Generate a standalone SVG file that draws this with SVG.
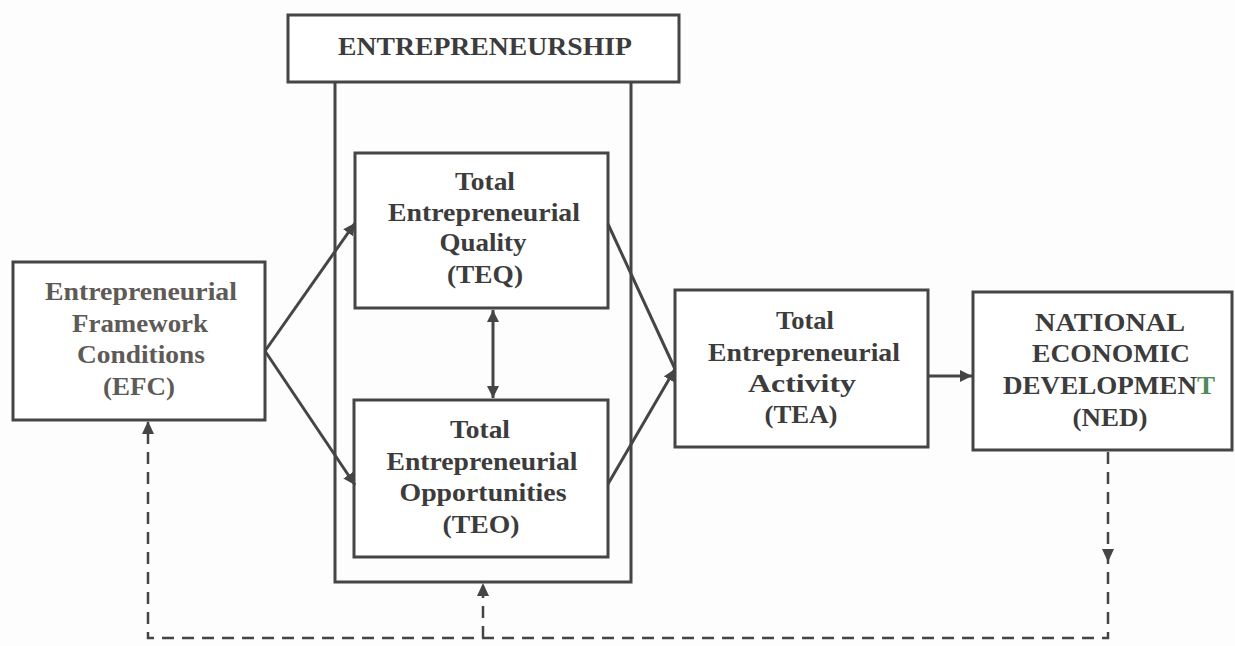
<svg xmlns="http://www.w3.org/2000/svg" width="1235" height="646" viewBox="0 0 1235 646">
  <style>
    .box { fill: #ffffff; stroke: #454545; stroke-width: 3; }
    .lbl { font-family: "Liberation Serif", "Times New Roman", serif; font-weight: bold; font-size: 26px; fill: #3c3c3c; text-anchor: middle; }
    .soft { fill: #5e5a56; }
    .link { fill: none; stroke: #454545; stroke-width: 3; }
    .dash { fill: none; stroke: #454545; stroke-width: 2.5; stroke-dasharray: 12 8; }
    .head { fill: #454545; }
  </style>
  <defs>
    <marker id="arrow" markerUnits="userSpaceOnUse" markerWidth="14" markerHeight="12" refX="12" refY="6" orient="auto">
      <path d="M0,0 L12,6 L0,12 Z" fill="#454545"/>
    </marker>
    <marker id="arrowStart" markerUnits="userSpaceOnUse" markerWidth="14" markerHeight="12" refX="0" refY="6" orient="auto">
      <path d="M12,0 L0,6 L12,12 Z" fill="#454545"/>
    </marker>
  </defs>

  <rect width="1235" height="646" fill="#fdfdfd"/>

  <!-- Entrepreneurship container -->
  <g id="entrepreneurship">
    <path class="link" d="M335,82 V582 H631 V82"/>
    <rect class="box" x="288" y="15" width="391" height="67"/>
    <text class="lbl" x="485" y="55" textLength="294" lengthAdjust="spacingAndGlyphs">ENTREPRENEURSHIP</text>
  </g>

  <g id="efc">
    <rect class="box" x="13" y="262" width="252" height="158"/>
    <text class="lbl soft" x="141" y="300" textLength="192" lengthAdjust="spacingAndGlyphs">Entrepreneurial</text>
    <text class="lbl soft" x="140" y="332" textLength="136" lengthAdjust="spacingAndGlyphs">Framework</text>
    <text class="lbl soft" x="141" y="363" textLength="128" lengthAdjust="spacingAndGlyphs">Conditions</text>
    <text class="lbl soft" x="139" y="395" textLength="72" lengthAdjust="spacingAndGlyphs">(EFC)</text>
  </g>

  <g id="teq">
    <rect class="box" x="355" y="153" width="253" height="155"/>
    <text class="lbl" x="485" y="190" textLength="60" lengthAdjust="spacingAndGlyphs">Total</text>
    <text class="lbl" x="484" y="221" textLength="192" lengthAdjust="spacingAndGlyphs">Entrepreneurial</text>
    <text class="lbl" x="483" y="251" textLength="87" lengthAdjust="spacingAndGlyphs">Quality</text>
    <text class="lbl" x="485" y="283" textLength="76" lengthAdjust="spacingAndGlyphs">(TEQ)</text>
  </g>

  <g id="teo">
    <rect class="box" x="354" y="400" width="254" height="157"/>
    <text class="lbl" x="480" y="438" textLength="60" lengthAdjust="spacingAndGlyphs">Total</text>
    <text class="lbl" x="482" y="470" textLength="191" lengthAdjust="spacingAndGlyphs">Entrepreneurial</text>
    <text class="lbl" x="483" y="501" textLength="167" lengthAdjust="spacingAndGlyphs">Opportunities</text>
    <text class="lbl" x="481" y="533" textLength="77" lengthAdjust="spacingAndGlyphs">(TEO)</text>
  </g>

  <g id="tea">
    <rect class="box" x="675" y="290" width="253" height="157"/>
    <text class="lbl" x="805" y="329" textLength="58" lengthAdjust="spacingAndGlyphs">Total</text>
    <text class="lbl" x="804" y="361" textLength="192" lengthAdjust="spacingAndGlyphs">Entrepreneurial</text>
    <text class="lbl" x="802" y="392" textLength="108" lengthAdjust="spacingAndGlyphs">Activity</text>
    <text class="lbl" x="801" y="423" textLength="73" lengthAdjust="spacingAndGlyphs">(TEA)</text>
  </g>

  <g id="ned">
    <rect class="box" x="973" y="292" width="259" height="158"/>
    <text class="lbl" x="1110" y="331" textLength="150" lengthAdjust="spacingAndGlyphs">NATIONAL</text>
    <text class="lbl" x="1111" y="362" textLength="158" lengthAdjust="spacingAndGlyphs">ECONOMIC</text>
    <text class="lbl" x="1109" y="394" textLength="212" lengthAdjust="spacingAndGlyphs">DEVELOPMEN<tspan fill="#4f8a5a">T</tspan></text>
    <text class="lbl" x="1110" y="426" textLength="75" lengthAdjust="spacingAndGlyphs">(NED)</text>
  </g>

  <!-- Connectors -->
  <g id="connectors">
    <line class="link" x1="265" y1="351" x2="355" y2="223" marker-end="url(#arrow)"/>
    <line class="link" x1="265" y1="351" x2="355" y2="485" marker-end="url(#arrow)"/>
    <line class="link" x1="493" y1="310" x2="493" y2="398" marker-start="url(#arrowStart)" marker-end="url(#arrow)"/>
    <line class="link" x1="608" y1="224" x2="675" y2="369"/>
    <line class="link" x1="608" y1="484" x2="675" y2="369" marker-end="url(#arrow)"/>
    <line class="link" x1="928" y1="376" x2="972" y2="376" marker-end="url(#arrow)"/>

    <!-- feedback loop back to the framework conditions -->
    <path class="dash" d="M1108,452 V638 H148 V422"/>
    <line class="dash" x1="483" y1="638" x2="483" y2="584"/>
    <path class="head" d="M1108,562 L1102,549 L1114,549 Z"/>
    <path class="head" d="M148,421 L142,434 L154,434 Z"/>
    <path class="head" d="M483,583 L477,596 L489,596 Z"/>
  </g>
</svg>
